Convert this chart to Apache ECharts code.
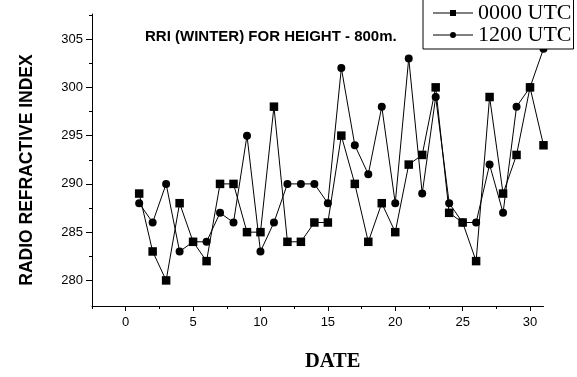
<!DOCTYPE html>
<html>
<head>
<meta charset="utf-8">
<title>RRI (WINTER) FOR HEIGHT - 800m.</title>
<script src="https://cdn.jsdelivr.net/npm/echarts@6/dist/echarts.min.js"></script>
<style>
  html, body { margin: 0; padding: 0; background: #fff; }
  #chart { width: 577px; height: 377px; }
</style>
</head>
<body>
<div id="chart"></div>
<script>
// Days of the month (winter) and radio refractive index at 800 m
const days = [1, 2, 3, 4, 5, 6, 7, 8, 9, 10, 11, 12, 13, 14, 15, 16, 17, 18, 19, 20,
              21, 22, 23, 24, 25, 26, 27, 28, 29, 30, 31];
const utc0000 = [289, 283, 280, 288, 284, 282, 290, 290, 285, 285, 298, 284, 284, 286, 286,
                 295, 290, 284, 288, 285, 292, 293, 300, 287, 286, 282, 299, 289, 293, 300, 294];
const utc1200 = [288, 286, 290, 283, 284, 284, 287, 286, 295, 283, 286, 290, 290, 290, 288,
                 302, 294, 291, 298, 288, 303, 289, 299, 288, 286, 286, 292, 287, 298, 300, 304];

// Axis ticks
const xMajor = [0, 5, 10, 15, 20, 25, 30];
const xMinor = [-2.5, 2.5, 7.5, 12.5, 17.5, 22.5, 27.5];
const yMajor = [280, 285, 290, 295, 300, 305];
const yMinor = [282.5, 287.5, 292.5, 297.5, 302.5, 307.5];

const seriesNames = ['0000 UTC', '1200 UTC'];

const SANS = "'Liberation Sans', Arial, sans-serif";
const SERIF = "'Liberation Serif', 'Times New Roman', serif";

const pairs = vals => days.map((d, i) => [d, vals[i]]);

// legend glyphs: a line with a square / dot in its middle
const iconSquare = 'path://M0,3.5L40,3.5L40,4.5L0,4.5Z M17,1L23,1L23,7L17,7Z M0,0L0.01,0L0.01,8L0,8Z';
const iconCircle = 'path://M0,3.5L40,3.5L40,4.5L0,4.5Z M17,4A3,3 0 1 1 23,4A3,3 0 1 1 17,4Z M0,0L0.01,0L0.01,8L0,8Z';

const chart = echarts.init(document.getElementById('chart'), null, { renderer: 'canvas' });

const baseX = {
  type: 'value', min: -2.5, max: 31, position: 'bottom',
  splitLine: { show: false }
};
const baseY = {
  type: 'value', min: 277.35, max: 307.6, position: 'left',
  splitLine: { show: false }
};

chart.setOption({
  animation: false,
  backgroundColor: '#fff',
  title: {
    text: 'RRI (WINTER) FOR HEIGHT - 800m.',
    left: 145, top: 29, padding: 0,
    textStyle: { fontFamily: SANS, fontSize: 15, fontWeight: 'bold', color: '#000' }
  },
  legend: {
    orient: 'vertical',
    left: 423, top: -3,
    padding: [5, 2, 3, 10],
    itemGap: 0,
    itemWidth: 40, itemHeight: 8,
    backgroundColor: '#fff',
    borderColor: '#000', borderWidth: 1, borderRadius: 0,
    textStyle: { fontFamily: SERIF, fontSize: 22, color: '#000' },
    data: [
      { name: seriesNames[0], icon: iconSquare, itemStyle: { color: '#000' } },
      { name: seriesNames[1], icon: iconCircle, itemStyle: { color: '#000' } }
    ]
  },
  grid: { left: 92, right: 33.5, top: 14, bottom: 63.5, containLabel: false },
  xAxis: [
    Object.assign({}, baseX, {
      name: 'DATE', nameLocation: 'middle', nameGap: 45,
      nameTextStyle: { fontFamily: SERIF, fontSize: 20.5, fontWeight: 'bold', color: '#000', padding: [0, 0, 0, 30] },
      axisLine: { show: true, onZero: false, lineStyle: { color: '#000', width: 1 } },
      axisTick: { show: true, inside: false, length: 5, customValues: xMajor, lineStyle: { color: '#000' } },
      axisLabel: { show: true, customValues: xMajor, margin: 10, fontFamily: SANS, fontSize: 13, color: '#000' }
    }),
    Object.assign({}, baseX, {
      axisLine: { show: false, onZero: false },
      axisTick: { show: true, inside: false, length: 3, customValues: xMinor, lineStyle: { color: '#000' } },
      axisLabel: { show: false, customValues: xMinor }
    })
  ],
  yAxis: [
    Object.assign({}, baseY, {
      name: 'RADIO REFRACTIVE INDEX', nameLocation: 'middle', nameRotate: 90, nameGap: 56,
      nameTextStyle: { fontFamily: SANS, fontSize: 17.5, fontWeight: 'bold', color: '#000', padding: [0, 20, 0, 0] },
      axisLine: { show: true, onZero: false, lineStyle: { color: '#000', width: 1 } },
      axisTick: { show: true, inside: false, length: 6, customValues: yMajor, lineStyle: { color: '#000' } },
      axisLabel: { show: true, customValues: yMajor, margin: 9, fontFamily: SANS, fontSize: 13, color: '#000' }
    }),
    Object.assign({}, baseY, {
      axisLine: { show: false, onZero: false },
      axisTick: { show: true, inside: false, length: 3, customValues: yMinor, lineStyle: { color: '#000' } },
      axisLabel: { show: false, customValues: yMinor }
    })
  ],
  series: [
    {
      name: seriesNames[0], type: 'line', xAxisIndex: 0, yAxisIndex: 0,
      data: pairs(utc0000),
      symbol: 'rect', symbolSize: 8.5,
      lineStyle: { color: '#000', width: 1 },
      itemStyle: { color: '#000', borderWidth: 0 },
      emphasis: { disabled: true }
    },
    {
      name: seriesNames[1], type: 'line', xAxisIndex: 0, yAxisIndex: 0,
      data: pairs(utc1200),
      symbol: 'circle', symbolSize: 8,
      lineStyle: { color: '#000', width: 1 },
      itemStyle: { color: '#000', borderWidth: 0 },
      emphasis: { disabled: true }
    }
  ]
});
</script>
</body>
</html>
